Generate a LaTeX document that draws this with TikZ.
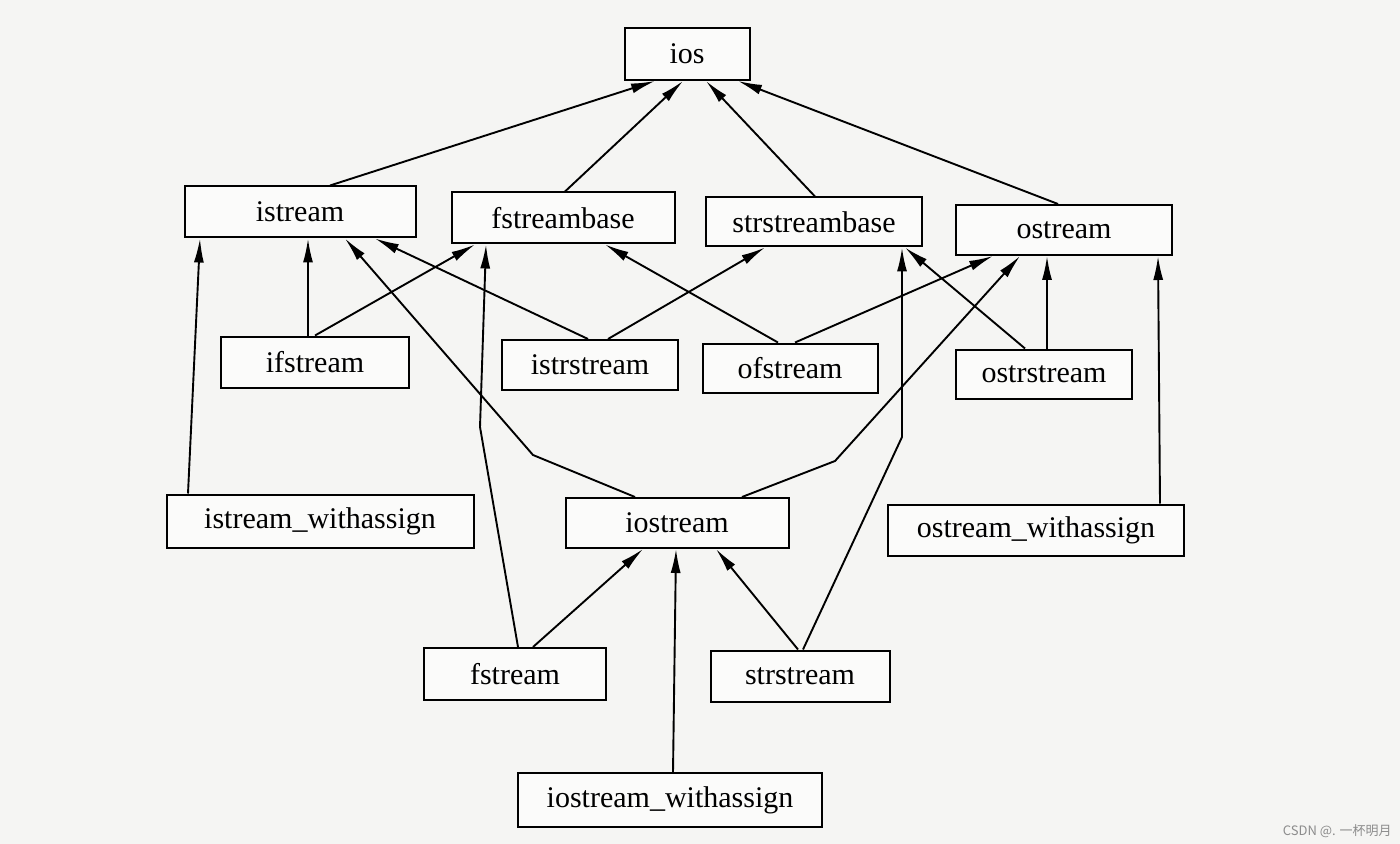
\documentclass[tikz,border=0pt]{standalone}
\usepackage{fontspec}
\setmainfont{Liberation Serif}
\newfontfamily\cjk{Noto Sans CJK SC}
\usetikzlibrary{arrows.meta,calc}
\definecolor{paper}{HTML}{F5F5F3}
\begin{document}
\begin{tikzpicture}[x=0.5pt,y=-0.5pt,
  cls/.style={draw=black,line width=1pt,fill=white!60!paper,inner sep=0pt,
    font=\fontsize{15pt}{18pt}\selectfont},
  inh/.style={line width=0.95pt,-{Latex[length=12pt,width=5pt]}}]
\useasboundingbox[fill=paper] (0,0) rectangle (1400,844);
% classes
\node[cls,minimum width=62.5pt,minimum height=26pt] (ios) at (687,54) {ios};
\node[cls,minimum width=115.5pt,minimum height=25.5pt] (istream) at (300,212) {istream};
\node[cls,minimum width=111.5pt,minimum height=25.5pt] (fstreambase) at (563,218) {fstreambase};
\node[cls,minimum width=108pt,minimum height=24.5pt] (strstreambase) at (814,222) {strstreambase};
\node[cls,minimum width=108pt,minimum height=25pt] (ostream) at (1064,230) {ostream};
\node[cls,minimum width=94pt,minimum height=25.5pt] (ifstream) at (315,362) {ifstream};
\node[cls,minimum width=88pt,minimum height=25pt] (istrstream) at (590,365) {istrstream};
\node[cls,minimum width=87.5pt,minimum height=24.5pt] (ofstream) at (790,368) {ofstream};
\node[cls,minimum width=88pt,minimum height=24.5pt] (ostrstream) at (1044,374) {ostrstream};
\node[cls,minimum width=153.5pt,minimum height=26.5pt] (iswa) at (320,521) {istream\_withassign};
\node[cls,minimum width=111.5pt,minimum height=25pt] (iostream) at (677,523) {iostream};
\node[cls,minimum width=148pt,minimum height=25.5pt] (oswa) at (1036,530) {ostream\_withassign};
\node[cls,minimum width=91pt,minimum height=26pt] (fstream) at (515,674) {fstream};
\node[cls,minimum width=89.5pt,minimum height=25.5pt] (strstream) at (800,676) {strstream};
\node[cls,minimum width=152pt,minimum height=27pt] (ioswa) at (670,800) {iostream\_withassign};
% bend points
\coordinate (b1) at (533,455);
\coordinate (b2) at (835,461);
\coordinate (b3) at (480,427);
\coordinate (b4) at (902,437);
% inheritance arrows
\draw[inh] ($(istream.north)+(30,0)$) -- ($(ios.south)+(-32,0)$);
\draw[inh] ($(fstreambase.north)+(2,0)$) -- ($(ios.south)+(-4,0)$);
\draw[inh] ($(strstreambase.north)+(1,0)$) -- ($(ios.south)+(19,0)$);
\draw[inh] ($(ostream.north)+(-6,0)$) -- ($(ios.south)+(51,0)$);
\draw[inh] ($(ifstream.north)+(-7,0)$) -- ($(istream.south)+(8,0)$);
\draw[inh] (ifstream.north) -- ($(fstreambase.south)+(-88,0)$);
\draw[inh] ($(istrstream.north)+(-2,0)$) -- ($(istream.south)+(75,0)$);
\draw[inh] ($(istrstream.north)+(18,0)$) -- ($(strstreambase.south)+(-49,0)$);
\draw[inh] ($(ofstream.north)+(-12,0)$) -- ($(fstreambase.south)+(42,0)$);
\draw[inh] ($(ofstream.north)+(5,0)$) -- ($(ostream.south)+(-71,0)$);
\draw[inh] ($(ostrstream.north)+(-19,0)$) -- ($(strstreambase.south)+(91,0)$);
\draw[inh] ($(ostrstream.north)+(3,0)$) -- ($(ostream.south)+(-17,0)$);
\draw[inh] ($(iswa.north)+(-132,0)$) -- ($(istream.south)+(-100,0)$);
\draw[inh] ($(oswa.north)+(124,0)$) -- ($(ostream.south)+(94,0)$);
\draw[inh] ($(iostream.north)+(-42,0)$) -- (b1) -- ($(istream.south)+(45,0)$);
\draw[inh] ($(iostream.north)+(65,0)$) -- (b2) -- ($(ostream.south)+(-44,0)$);
\draw[inh] ($(fstream.north)+(3,0)$) -- (b3) -- ($(fstreambase.south)+(-77,0)$);
\draw[inh] ($(strstream.north)+(3,0)$) -- (b4) -- ($(strstreambase.south)+(88,0)$);
\draw[inh] ($(fstream.north)+(18,0)$) -- ($(iostream.south)+(-34,0)$);
\draw[inh] ($(strstream.north)+(-2,0)$) -- ($(iostream.south)+(39,0)$);
\draw[inh] ($(ioswa.north)+(3,0)$) -- ($(iostream.south)+(-1,0)$);
% watermark
\node[anchor=east,text=black!45,inner sep=0pt,font=\cjk\fontsize{6.5pt}{8pt}\selectfont] (wm) at (1392,831) {CSDN @. 一杯明月};
\end{tikzpicture}
\end{document}
